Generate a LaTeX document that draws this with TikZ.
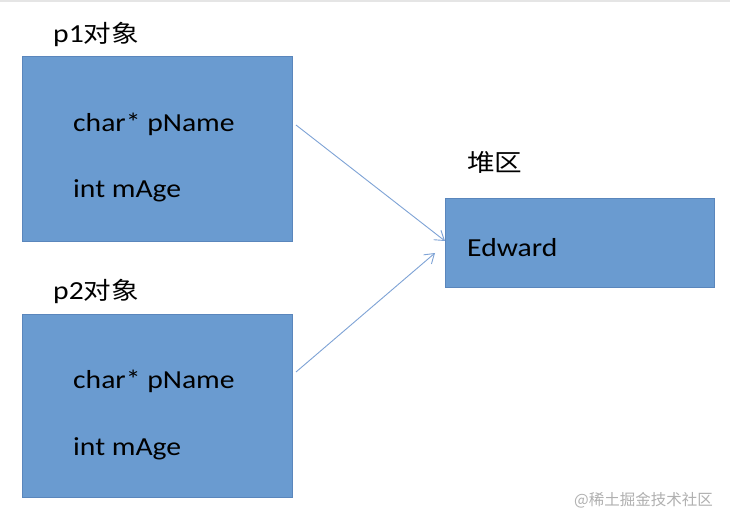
\documentclass[tikz,border=0pt]{standalone}
\usepackage{fontspec}
\usepackage{graphicx}
\setmainfont{Carlito}
\newfontfamily\cjk{Noto Sans CJK SC}
\usetikzlibrary{arrows.meta}
\definecolor{boxfill}{HTML}{6A9BD0}
\definecolor{boxline}{HTML}{5A86BC}
\definecolor{arrowc}{HTML}{7EA3D6}
\definecolor{wm}{HTML}{B0B0B0}
\newcommand{\wtxt}[1]{\scalebox{1.14}[1]{#1}}
\newcommand{\wcjk}[1]{\scalebox{1.15}[1]{\cjk\fontsize{24}{26}\selectfont #1}}
\tikzset{
  objbox/.style={draw=boxline, fill=boxfill, line width=1pt, inner sep=0pt},
  fieldtxt/.style={anchor=base west, font=\fontsize{26}{28}\selectfont, text=black, inner sep=0pt},
  titletxt/.style={anchor=base west, font=\fontsize{26}{28}\selectfont, text=black, inner sep=0pt},
  ptr/.style={draw=arrowc, line width=0.9pt, -{Straight Barb[length=9pt,width=12pt,line width=0.9pt]}},
}
\begin{document}
\begin{tikzpicture}[x=1pt,y=-1pt]
\useasboundingbox (0,0) rectangle (730,526);
\fill[white] (0,0) rectangle (730,526);
\draw[draw=black!10, line width=2pt] (0,1) -- (730,1);
% boxes
\node[objbox, minimum width=270pt, minimum height=185pt] (p1) at (157,149.5) {};
\node[objbox, minimum width=270pt, minimum height=183pt] (p2) at (157,405.5) {};
\node[objbox, minimum width=269pt, minimum height=89pt] (heap) at (579.5,243.5) {};
% titles
\node[titletxt] (t1) at (53,43) {\wtxt{p1}\wcjk{对象}};
\node[titletxt] (t2) at (53,299) {\wtxt{p2}\wcjk{对象}};
\node[titletxt] (t3) at (467,172) {\wcjk{堆区}};
% fields
\node[fieldtxt] (a1) at (73,131.5) {\wtxt{char* pName}};
\node[fieldtxt] (b1) at (73,198) {\wtxt{int mAge}};
\node[fieldtxt] (a2) at (73,388) {\wtxt{char* pName}};
\node[fieldtxt] (b2) at (73,455) {\wtxt{int mAge}};
\node[fieldtxt] (e) at (467,256.5) {\wtxt{Edward}};
% pointers
\coordinate (s1) at (296,125);
\coordinate (e1) at (445,241);
\coordinate (s2) at (296,372);
\coordinate (e2) at (435,253);
\draw[ptr] (s1) -- (e1);
\draw[ptr] (s2) -- (e2);
% watermark
\node[anchor=east, inner sep=0pt, text=wm, font=\cjk\fontsize{15.5}{17}\selectfont] (w) at (713,500) {@稀土掘金技术社区};
\end{tikzpicture}
\end{document}
